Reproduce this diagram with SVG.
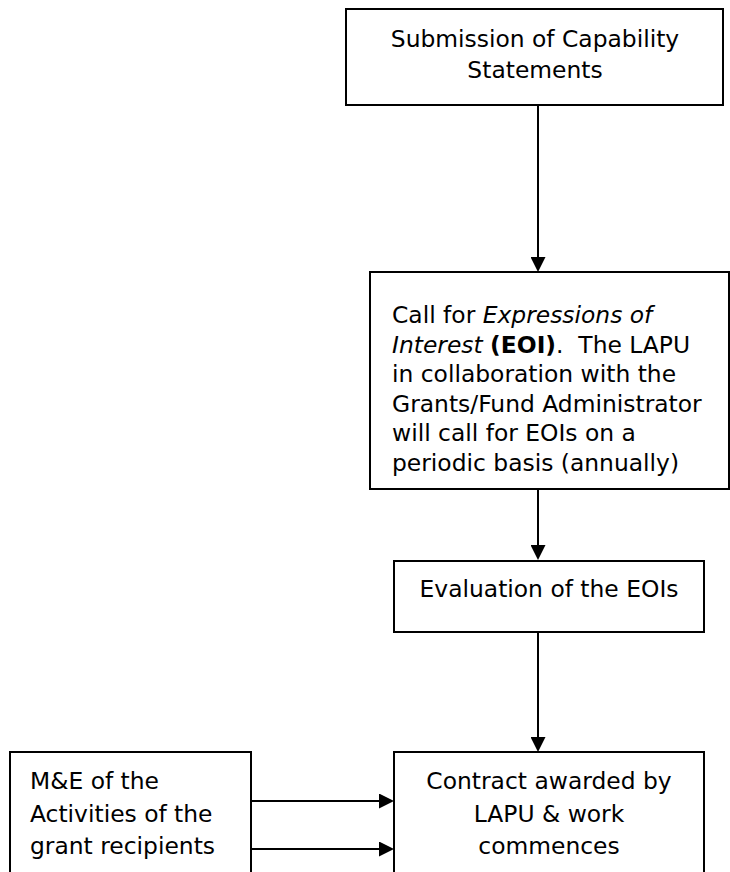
<svg xmlns="http://www.w3.org/2000/svg" width="730" height="872" viewBox="0 0 730 872">
<style>
.box{fill:#fff;stroke:#000;stroke-width:2}
.t{font-family:"DejaVu Sans","Verdana",sans-serif;font-size:23.4px;fill:#000}
.c{text-anchor:middle}
.i{font-style:italic}
.b{font-weight:bold}
.conn line{stroke:#000;stroke-width:2}
</style>
<defs>
<marker id="ah" viewBox="0 0 15 15" markerWidth="15" markerHeight="15" markerUnits="userSpaceOnUse" refX="0" refY="7.5" orient="auto">
<path d="M0,0 L15,7.5 L0,15 z" fill="#000"/>
</marker>
</defs>
<rect width="730" height="872" fill="#fff"/>
<g id="n1">
<rect class="box" x="346" y="9" width="377" height="96"/>
<text class="t c" x="535" y="47">Submission of Capability</text>
<text class="t c" x="535" y="78">Statements</text>
</g>
<g id="n2">
<rect class="box" x="370" y="272" width="359" height="217"/>
<text class="t" x="392" y="323">Call for <tspan class="i">Expressions of</tspan></text>
<text class="t" x="392" y="352.5" xml:space="preserve"><tspan class="i">Interest</tspan> <tspan class="b">(EOI)</tspan>.  The LAPU</text>
<text class="t" x="392" y="382">in collaboration with the</text>
<text class="t" x="392" y="411.5">Grants/Fund Administrator</text>
<text class="t" x="392" y="441">will call for EOIs on a</text>
<text class="t" x="392" y="470.5">periodic basis (annually)</text>
</g>
<g id="n3">
<rect class="box" x="394" y="561" width="310" height="71"/>
<text class="t c" x="549" y="597">Evaluation of the EOIs</text>
</g>
<g id="n4">
<rect class="box" x="394" y="752" width="310" height="130"/>
<text class="t c" x="549" y="789">Contract awarded by</text>
<text class="t c" x="549" y="822">LAPU &amp; work</text>
<text class="t c" x="549" y="854">commences</text>
</g>
<g id="n5">
<rect class="box" x="10" y="752" width="241" height="130"/>
<text class="t" x="30" y="789">M&amp;E of the</text>
<text class="t" x="30" y="822">Activities of the</text>
<text class="t" x="30" y="854">grant recipients</text>
</g>
<g id="connectors" class="conn">
<line x1="538" y1="105" x2="538" y2="257" marker-end="url(#ah)"/>
<line x1="538" y1="489" x2="538" y2="545" marker-end="url(#ah)"/>
<line x1="538" y1="632" x2="538" y2="737" marker-end="url(#ah)"/>
<line x1="251" y1="801" x2="379" y2="801" marker-end="url(#ah)"/>
<line x1="251" y1="849" x2="379" y2="849" marker-end="url(#ah)"/>
</g>
</svg>
